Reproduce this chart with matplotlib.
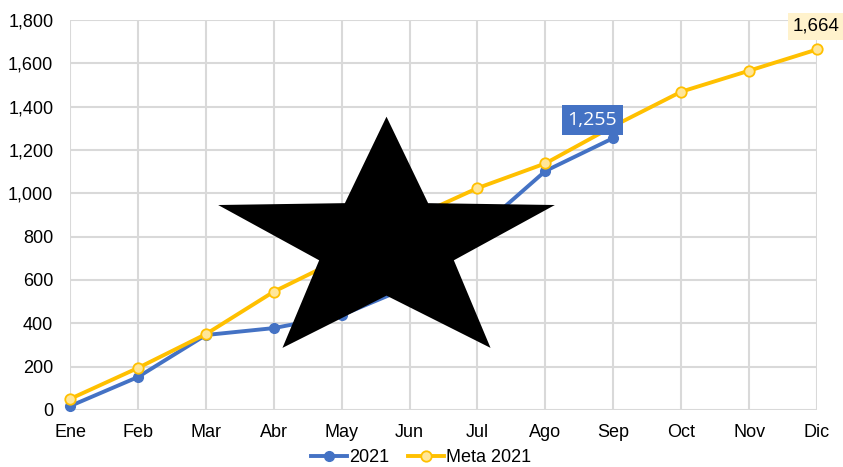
import numpy as np
import matplotlib
matplotlib.use("Agg")
import matplotlib.pyplot as plt
from matplotlib.patches import Polygon

months = ["Ene", "Feb", "Mar", "Abr", "May", "Jun", "Jul", "Ago", "Sep", "Oct", "Nov", "Dic"]
real_2021 = [18, 152, 346, 378, 438, 569, 828, 1103, 1255]
meta_2021 = [51, 194, 350, 546, 700, 881, 1024, 1138, 1310, 1469, 1566, 1664]
yticks = [0, 200, 400, 600, 800, 1000, 1200, 1400, 1600, 1800]

plt.rcParams['font.family'] = ['Liberation Sans', 'DejaVu Sans']

W, H = 843, 467
fig = plt.figure(figsize=(W / 100, H / 100), dpi=100)
ax = fig.add_axes([70 / W, 1 - 410 / H, (817 - 70) / W, (410 - 20) / H])

blue = "#4472C4"
gold = "#FFC000"
gold_fill = "#FFE699"
fs = 13

x = np.arange(len(months))
ax.plot(x[:len(real_2021)], real_2021, color=blue, lw=2.8, marker='o', ms=7,
        mfc=blue, mec=blue, clip_on=False, zorder=3, label="2021")
ax.plot(x, meta_2021, color=gold, lw=2.8, marker='o', ms=7.5, mfc=gold_fill,
        mec=gold, mew=1.3, clip_on=False, zorder=4, label="Meta 2021")

ax.set_xlim(0, len(months) - 1)
ax.set_ylim(0, 1800)
ax.set_xticks(x)
ax.set_xticklabels(months)
ax.set_yticks(yticks)
ax.set_yticklabels([f"{v:,}" for v in yticks])
ax.tick_params(axis='both', length=0, labelsize=fs, colors='#000000')
ax.tick_params(axis='y', pad=12)
ax.tick_params(axis='x', pad=10)
for s in ax.spines.values():
    s.set_visible(False)
ax.grid(True, color='#D9D9D9', lw=1.5)
ax.set_axisbelow(True)

# data labels
i = len(real_2021) - 1
ax.annotate(f"{real_2021[i]:,}", (x[i], real_2021[i]), xytext=(-21, 18),
            textcoords='offset pixels', ha='center', va='center', color='white',
            fontsize=14, family=['Open Sans', 'DejaVu Sans'], zorder=6,
            bbox=dict(boxstyle='square,pad=0.3', fc=blue, ec='none'))
j = len(meta_2021) - 1
ax.annotate(f"{meta_2021[j]:,}", (x[j], meta_2021[j]), xytext=(-1, 23),
            textcoords='offset pixels', ha='center', va='center', color='black',
            fontsize=13.5, zorder=6, annotation_clip=False,
            bbox=dict(boxstyle='square,pad=0.25', fc='#FFF2CC', ec='none'))

# star overlay (axes fraction coords)
cx, cy = (386.5 - 70) / 747, 1 - (244.5 - 20) / 390
Rx, Ry = 177.0 / 747, 127.8 / 390
rx, ry = Rx * 0.40, Ry * 0.40
pts = []
for k in range(10):
    ang = np.pi / 2 + k * np.pi / 5
    if k % 2 == 0:
        pts.append((cx + Rx * np.cos(ang), cy + Ry * np.sin(ang)))
    else:
        pts.append((cx + rx * np.cos(ang), cy + ry * np.sin(ang)))
ax.add_patch(Polygon(pts, closed=True, transform=ax.transAxes, fc='black',
                     ec='none', zorder=10, clip_on=False))

leg = fig.legend(loc='center', bbox_to_anchor=(421 / W, 1 - 458 / H), ncol=2,
                 frameon=False, fontsize=fs, handlelength=2.0,
                 columnspacing=1.0, handletextpad=0.15, borderpad=0)

fig.savefig("out.png", dpi=100, facecolor='white')
